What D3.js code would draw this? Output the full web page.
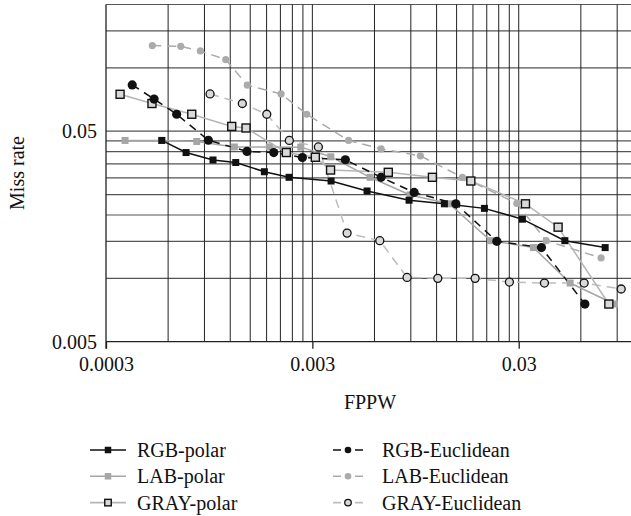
<!DOCTYPE html>
<html>
<head>
<meta charset="utf-8">
<script src="https://cdn.jsdelivr.net/npm/d3@7"></script>
<style>
  body { margin: 0; background: #fff; }
  svg { display: block; }
  text { font-family: "Liberation Serif", "DejaVu Serif", serif; fill: #111; }
</style>
</head>
<body>
<svg id="chart" width="631" height="516"></svg>
<script>
// values (FPPW, miss rate)
const rgbPolarX = [0.000559, 0.000733, 0.00099, 0.001276, 0.001756, 0.002313, 0.003697, 0.005524, 0.008826, 0.01309, 0.02046, 0.03126, 0.0502, 0.0787];
const rgbPolarY = [0.0452, 0.0396, 0.0365, 0.0355, 0.0321, 0.0302, 0.029, 0.026, 0.0235, 0.0226, 0.0215, 0.0191, 0.0151, 0.014];

const labPolarX = [0.000371, 0.000559, 0.000826, 0.001256, 0.001856, 0.002636, 0.003685, 0.005715, 0.00893, 0.0138, 0.02188, 0.03535, 0.05325, 0.0873];
const labPolarY = [0.0452, 0.0452, 0.0447, 0.0421, 0.0421, 0.042, 0.0378, 0.0302, 0.0249, 0.0226, 0.0151, 0.014, 0.0095, 0.00755];

const grayPolarX = [0.000351, 0.000501, 0.000781, 0.00122, 0.001431, 0.002244, 0.003101, 0.003675, 0.007, 0.01145, 0.01758, 0.03234, 0.04656, 0.082];
const grayPolarY = [0.0749, 0.0677, 0.0602, 0.0527, 0.0518, 0.0396, 0.0376, 0.0327, 0.0319, 0.0302, 0.029, 0.0226, 0.0175, 0.00755];

const rgbEuclX = [0.000402, 0.000513, 0.00066, 0.00094, 0.001447, 0.00195, 0.002683, 0.004335, 0.00646, 0.00934, 0.01487, 0.02349, 0.03865, 0.06276];
const rgbEuclY = [0.083, 0.0711, 0.0602, 0.0453, 0.0401, 0.0396, 0.0375, 0.0366, 0.0302, 0.0256, 0.0226, 0.015, 0.014, 0.00755];

const labEuclX = [0.000503, 0.000691, 0.00086, 0.001141, 0.001452, 0.002116, 0.002818, 0.004494, 0.00646, 0.01001, 0.016, 0.02937, 0.04074, 0.0752];
const labEuclY = [0.1276, 0.1266, 0.1203, 0.1095, 0.0827, 0.0752, 0.0602, 0.0452, 0.0412, 0.0382, 0.0302, 0.0227, 0.0151, 0.0125];

const grayEuclX = [0.000958, 0.001373, 0.001804, 0.00232, 0.003208, 0.00442, 0.006366, 0.00863, 0.01216, 0.01844, 0.02704, 0.03997, 0.06225, 0.0941];
const grayEuclY = [0.0752, 0.0677, 0.0602, 0.0452, 0.0421, 0.0164, 0.0151, 0.0101, 0.01, 0.01, 0.0096, 0.0095, 0.0095, 0.0089];

const xGrid = [0.0006, 0.0009, 0.0012, 0.0015, 0.0018, 0.0021, 0.0024, 0.0027, 0.003,
               0.006, 0.009, 0.012, 0.015, 0.018, 0.021, 0.024, 0.027, 0.03, 0.06, 0.09];
const yGrid = [0.01, 0.015, 0.02, 0.025, 0.03, 0.035, 0.04, 0.045, 0.05, 0.1, 0.15, 0.2];
const xTicks = [0.0003, 0.003, 0.03];
const yTicks = [0.005, 0.05];
const xTickLabels = ["0.0003", "0.003", "0.03"];
const yTickLabels = ["0.005", "0.05"];

const svg = d3.select("#chart");
const x = d3.scaleLog().domain([0.0003, 0.105]).range([106, 631]);
const y = d3.scaleLog().domain([0.005, 0.2]).range([341.7, 4.5]);

// grid
svg.append("g").selectAll("line").data(yGrid).join("line")
  .attr("x1", x(0.0003)).attr("x2", 631)
  .attr("y1", d => y(d)).attr("y2", d => y(d))
  .attr("stroke", "#555").attr("stroke-width", 1.2);
svg.append("g").selectAll("line").data(xGrid).join("line")
  .attr("x1", d => x(d)).attr("x2", d => x(d))
  .attr("y1", y(0.2)).attr("y2", y(0.005))
  .attr("stroke", "#222").attr("stroke-width", 1);

// axes
const xAxis = svg.append("g").attr("transform", `translate(0,${y(0.005)})`)
  .call(d3.axisBottom(x).tickValues(xTicks).tickFormat((d, i) => xTickLabels[i]).tickSize(7).tickPadding(8));
const yAxis = svg.append("g").attr("transform", `translate(${x(0.0003)},0)`)
  .call(d3.axisLeft(y).tickValues(yTicks).tickFormat((d, i) => yTickLabels[i]).tickSize(0).tickPadding(9));
[xAxis, yAxis].forEach(a => {
  a.select(".domain").attr("stroke", "#222").attr("stroke-width", 1.3);
  a.selectAll(".tick line").attr("stroke", "#222").attr("stroke-width", 1.3);
  a.selectAll("text").style("font-size", "20px").style("font-family", '"Liberation Serif", serif').attr("fill", "#111");
});
xAxis.select(".domain").attr("d", `M${x(0.0003)},0H631`);
yAxis.select(".domain").attr("d", `M0,${y(0.2)}V${y(0.005) + 7}`);

svg.append("text").attr("x", 370).attr("y", 409).attr("text-anchor", "middle")
  .style("font-size", "20px").text("FPPW");
svg.append("text").attr("transform", "translate(24,173) rotate(-90)").attr("text-anchor", "middle")
  .style("font-size", "20px").text("Miss rate");

// series
const series = [
  {name: "LAB-polar", xs: labPolarX, ys: labPolarY, line: "#a6a6a6", dash: null, mark: "square", fill: "#a6a6a6", stroke: "none", size: 7},
  {name: "LAB-Euclidean", xs: labEuclX, ys: labEuclY, line: "#ababab", dash: "9,6", mark: "circle", fill: "#ababab", stroke: "none", size: 3.6},
  {name: "GRAY-Euclidean", xs: grayEuclX, ys: grayEuclY, line: "#bdbdbd", dash: "9,6", mark: "circle", fill: "#d9d9d9", stroke: "#111", size: 4},
  {name: "GRAY-polar", xs: grayPolarX, ys: grayPolarY, line: "#b5b5b5", dash: null, mark: "square", fill: "#d9d9d9", stroke: "#111", size: 8},
  {name: "RGB-polar", xs: rgbPolarX, ys: rgbPolarY, line: "#111", dash: null, mark: "square", fill: "#111", stroke: "none", size: 7},
  {name: "RGB-Euclidean", xs: rgbEuclX, ys: rgbEuclY, line: "#111", dash: "8,6", mark: "circle", fill: "#111", stroke: "none", size: 4.6}
];

const line = d3.line().x(d => x(d[0])).y(d => y(d[1]));
series.forEach(s => {
  const pts = s.xs.map((v, i) => [v, s.ys[i]]);
  svg.append("path").datum(pts).attr("d", line)
    .attr("fill", "none").attr("stroke", s.line).attr("stroke-width", 1.5)
    .attr("stroke-dasharray", s.dash);
});

function drawMark(g, s, cx, cy, size) {
  if (s.mark === "square") {
    g.append("rect").attr("x", cx - size / 2).attr("y", cy - size / 2)
      .attr("width", size).attr("height", size)
      .attr("fill", s.fill).attr("stroke", s.stroke).attr("stroke-width", 1.4);
  } else {
    g.append("circle").attr("cx", cx).attr("cy", cy).attr("r", size)
      .attr("fill", s.fill).attr("stroke", s.stroke).attr("stroke-width", 1.3);
  }
}

series.forEach(s => {
  const g = svg.append("g");
  s.xs.forEach((v, i) => drawMark(g, s, x(v), y(s.ys[i]), s.size));
});

// legend
const legendOrder = ["RGB-polar", "LAB-polar", "GRAY-polar", "RGB-Euclidean", "LAB-Euclidean", "GRAY-Euclidean"];
legendOrder.forEach((name, i) => {
  const s = series.find(d => d.name === name);
  const col = Math.floor(i / 3), row = i % 3;
  const x0 = col === 0 ? 90 : 333, len = col === 0 ? 36 : 30;
  const ly = 450 + row * 26.3;
  const g = svg.append("g");
  g.append("line").attr("x1", x0).attr("x2", x0 + len).attr("y1", ly).attr("y2", ly)
    .attr("stroke", s.line).attr("stroke-width", 1.6)
    .attr("stroke-dasharray", s.dash ? "8,14,8" : null);
  drawMark(g, s, x0 + len / 2, ly, s.mark === "square" ? 6.5 : 3.3);
  g.append("text").attr("x", col === 0 ? 137 : 382).attr("y", ly + 7)
    .style("font-size", "20px").text(name);
});
</script>
</body>
</html>
